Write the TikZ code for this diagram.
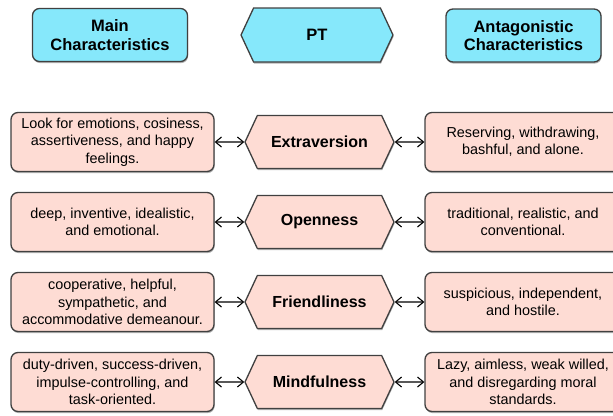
\documentclass[tikz,border=0pt]{standalone}
\usepackage{fontspec}
\setmainfont{Liberation Sans}
\usepackage{tikz}
\usetikzlibrary{arrows.meta, shapes.symbols, shadows}
\definecolor{ptcyan}{HTML}{86E8FB}
\definecolor{ptpink}{HTML}{FEDCD4}
\definecolor{ptedge}{HTML}{404040}

\begin{document}
\begin{tikzpicture}[x=1pt, y=-1pt,
  shade3d/.style={drop shadow={shadow xshift=0.6pt, shadow yshift=-1.6pt, fill=black, opacity=0.3}},
  head/.style={draw=ptedge, fill=ptcyan, line width=1.3pt, rounded corners=7pt, shade3d,
               minimum width=155pt, minimum height=53pt, inner sep=0pt, align=center,
               font=\fontsize{16.5}{18.5}\selectfont\bfseries},
  headhex/.style={draw=ptedge, fill=ptcyan, line width=1.3pt, signal, signal to=west and east,
               signal pointer angle=130, minimum width=152pt, minimum height=54pt, inner sep=0pt,
               shade3d, font=\fontsize{16.5}{18.5}\selectfont\bfseries},
  trait/.style={draw=ptedge, fill=ptpink, line width=1.3pt, signal, signal to=west and east,
               signal pointer angle=130, minimum width=149pt, minimum height=53pt, inner sep=0pt,
               shade3d, font=\fontsize{16}{18}\selectfont\bfseries},
  desc/.style={draw=ptedge, fill=ptpink, line width=1.3pt, rounded corners=7pt, shade3d,
               minimum width=203pt, minimum height=59pt, inner sep=0pt, align=center,
               font=\fontsize{14.4}{17.4}\selectfont},
  anti/.style={desc, minimum width=196pt},
  arr/.style={{Straight Barb[length=6pt,width=10pt]}-{Straight Barb[length=6pt,width=10pt]}, line width=1.1pt, color=black},
]
  \useasboundingbox (0,0) rectangle (613,415);

  % header row
  \node[head] (main) at (110, 35) {Main\\Characteristics};
  \node[headhex] (pt) at (317, 35) {PT};
  \node[head] (anta) at (523.5, 35.5) {Antagonistic\\Characteristics};

  % extraversion
  \node[desc] (extraL) at (112.5, 142) {Look for emotions, cosiness,\\assertiveness, and happy\\feelings.};
  \node[trait] (extra) at (319.5, 142) {Extraversion};
  \node[anti] (extraR) at (523, 142) {Reserving, withdrawing,\\bashful, and alone.};

  % openness
  \node[desc] (openL) at (112.5, 222) {deep, inventive, idealistic,\\and emotional.};
  \node[trait] (open) at (319.5, 222) {Openness};
  \node[anti] (openR) at (523, 222) {traditional, realistic, and\\conventional.};

  % friendliness
  \node[desc] (friendL) at (112.5, 302) {cooperative, helpful,\\sympathetic, and\\accommodative demeanour.};
  \node[trait] (friend) at (319.5, 302) {Friendliness};
  \node[anti] (friendR) at (523, 302) {suspicious, independent,\\and hostile.};

  % mindfulness
  \node[desc] (mindL) at (112.5, 382) {duty-driven, success-driven,\\impulse-controlling, and\\task-oriented.};
  \node[trait] (mind) at (319.5, 382) {Mindfulness};
  \node[anti] (mindR) at (523, 382) {Lazy, aimless, weak willed,\\and disregarding moral\\standards.};

  \draw[arr] (extraL) -- (extra);
  \draw[arr] (extra) -- (extraR);
  \draw[arr] (openL) -- (open);
  \draw[arr] (open) -- (openR);
  \draw[arr] (friendL) -- (friend);
  \draw[arr] (friend) -- (friendR);
  \draw[arr] (mindL) -- (mind);
  \draw[arr] (mind) -- (mindR);
\end{tikzpicture}
\end{document}
